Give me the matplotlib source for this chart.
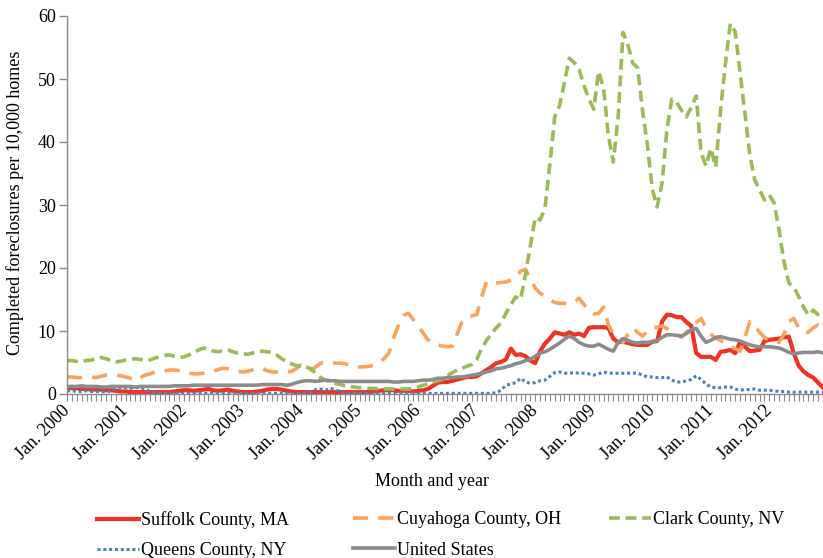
import numpy as np
import matplotlib
matplotlib.use("Agg")
import matplotlib.pyplot as plt

plt.rcParams['font.family'] = ['Liberation Serif', 'DejaVu Serif']

# monthly data, Jan. 2000 .. Dec. 2012 (156 months)
suffolk = [
    1.0, 0.9, 0.9, 0.8, 0.8, 0.7, 0.7, 0.7, 0.6, 0.6, 0.5, 0.4,
    0.4, 0.3, 0.3, 0.3, 0.3, 0.3, 0.3, 0.3, 0.3, 0.3, 0.4, 0.5,
    0.6, 0.6, 0.5, 0.6, 0.7, 0.8, 0.6, 0.5, 0.6, 0.7, 0.5, 0.4,
    0.3, 0.3, 0.3, 0.4, 0.5, 0.7, 0.8, 0.8, 0.7, 0.5, 0.4, 0.3,
    0.3, 0.3, 0.3, 0.3, 0.3, 0.3, 0.3, 0.3, 0.3, 0.3, 0.3, 0.3,
    0.3, 0.3, 0.3, 0.4, 0.5, 0.6, 0.6, 0.6, 0.5, 0.5, 0.5, 0.4,
    0.5, 0.6, 0.8, 1.3, 1.8, 1.9, 1.9, 2.1, 2.3, 2.5, 2.7, 2.7,
    2.8, 3.3, 3.8, 4.3, 4.9, 5.1, 5.5, 7.2, 6.2, 6.3, 6.0, 5.3,
    4.9, 6.8, 8.0, 8.8, 9.8, 9.6, 9.4, 9.8, 9.4, 9.6, 9.2, 10.5,
    10.6, 10.6, 10.6, 10.5, 8.8, 8.2, 8.3, 8.1, 7.9, 7.8, 7.8, 7.8,
    8.3, 8.4, 11.5, 12.6, 12.5, 12.2, 12.2, 11.4, 10.8, 6.5, 5.9, 5.9,
    5.9, 5.4, 6.7, 6.8, 7.0, 6.5, 8.2, 7.5, 6.8, 6.9, 7.0, 8.4,
    8.6, 8.7, 8.8, 9.0, 9.1, 6.5, 4.5, 3.6, 3.0, 2.6, 1.8, 1.0,
]

cuyahoga = [
    2.7, 2.7, 2.6, 2.6, 2.7, 2.7, 2.6, 2.8, 3.0, 3.0, 3.0, 2.9,
    2.7, 2.5, 2.1, 2.6, 3.0, 3.2, 3.5, 3.6, 3.7, 3.8, 3.8, 3.7,
    3.5, 3.3, 3.2, 3.2, 3.3, 3.3, 3.6, 3.9, 4.1, 4.0, 3.8, 3.6,
    3.5, 3.6, 3.8, 4.0, 4.1, 3.7, 3.5, 3.5, 3.5, 3.5, 3.6, 4.0,
    4.6, 4.3, 3.8, 4.3, 4.9, 4.9, 4.9, 4.9, 4.9, 4.8, 4.6, 4.4,
    4.3, 4.3, 4.4, 4.6, 5.1, 5.6, 6.5, 9.0, 11.0, 12.5, 12.8, 11.8,
    10.8, 9.7, 8.6, 8.0, 7.8, 7.6, 7.5, 7.6, 9.5, 11.5, 12.2, 12.4,
    12.6, 15.4, 17.8, 17.6, 17.6, 17.7, 17.8, 18.1, 18.5, 19.5, 19.8, 18.3,
    16.8, 16.0, 15.5, 15.0, 14.5, 14.4, 14.4, 14.4, 14.6, 15.2, 14.2, 13.2,
    12.7, 12.8, 13.8, 11.0, 9.5, 8.5, 8.2, 9.5, 10.5, 9.8, 9.2, 10.0,
    10.5, 10.6, 10.8, 10.4, 9.8, 9.5, 9.0, 9.8, 10.6, 11.3, 12.0, 10.5,
    9.5, 8.8, 8.5, 8.0, 7.5, 7.2, 6.8, 9.0, 11.5, 10.8, 9.8, 9.0,
    8.5, 8.3, 8.2, 9.5, 11.5, 12.0, 10.5, 9.8, 9.8, 10.5, 11.0, 10.8,
]

clark = [
    5.3, 5.3, 5.2, 5.2, 5.3, 5.4, 5.6, 5.8, 5.6, 5.3, 5.1, 5.2,
    5.4, 5.5, 5.6, 5.5, 5.3, 5.4, 5.7, 5.9, 6.1, 6.2, 6.0, 5.8,
    5.9, 6.2, 6.6, 7.0, 7.3, 7.1, 6.8, 6.7, 6.9, 7.0, 6.7, 6.5,
    6.4, 6.3, 6.5, 6.7, 6.8, 6.7, 6.6, 6.2, 5.6, 5.2, 4.8, 4.5,
    4.4, 4.3, 4.0, 3.3, 2.6, 2.2, 1.9, 1.7, 1.5, 1.3, 1.2, 1.1,
    1.0, 1.0, 0.9, 0.9, 0.8, 0.8, 0.8, 0.8, 0.8, 0.8, 0.8, 0.9,
    1.1, 1.4, 1.6, 1.9, 2.1, 2.3, 2.9, 3.4, 3.8, 4.1, 4.4, 4.7,
    5.5, 7.2, 8.5, 9.5, 10.5, 11.3, 12.8, 14.2, 15.4, 15.0, 19.0, 23.5,
    28.0, 27.6, 29.5, 36.5, 44.0, 45.8, 49.5, 53.3, 52.6, 51.5, 49.0, 46.8,
    45.2, 51.2, 48.5, 41.0, 36.8, 44.0, 57.4, 55.4, 52.5, 51.8, 45.0, 39.5,
    32.5, 29.7, 33.5, 42.0, 46.8, 46.3, 45.0, 44.0, 45.5, 47.3, 38.3, 36.2,
    39.0, 36.0, 45.0, 52.5, 58.8, 57.5, 51.0, 44.5, 38.0, 34.0, 32.4, 30.8,
    31.6, 30.3, 26.0, 21.0, 17.6, 17.0, 15.5, 13.8, 12.5, 13.3, 12.6, 12.0,
]

queens = [
    0.5, 0.5, 0.4, 0.4, 0.5, 0.4, 0.4, 0.4, 0.3, 0.5, 0.9, 1.0,
    1.0, 0.9, 1.0, 1.0, 0.8, 0.4, 0.2, 0.1, 0.1, 0.1, 0.1, 0.1,
    0.1, 0.1, 0.1, 0.1, 0.1, 0.1, 0.1, 0.1, 0.1, 0.1, 0.1, 0.1,
    0.1, 0.1, 0.1, 0.1, 0.1, 0.1, 0.1, 0.1, 0.1, 0.1, 0.1, 0.1,
    0.1, 0.1, 0.3, 0.7, 0.8, 0.6, 0.9, 0.7, 0.4, 0.1, 0.1, 0.1,
    0.1, 0.1, 0.1, 0.1, 0.1, 0.1, 0.1, 0.1, 0.1, 0.1, 0.1, 0.1,
    0.1, 0.1, 0.1, 0.1, 0.1, 0.1, 0.1, 0.1, 0.1, 0.1, 0.1, 0.1,
    0.1, 0.1, 0.1, 0.1, 0.2, 0.6, 1.4, 1.6, 1.8, 2.5, 1.9, 1.7,
    1.8, 2.1, 2.2, 2.8, 3.4, 3.5, 3.3, 3.3, 3.4, 3.3, 3.3, 3.2,
    3.0, 3.2, 3.5, 3.3, 3.3, 3.3, 3.3, 3.3, 3.3, 3.3, 3.0, 2.7,
    2.7, 2.6, 2.6, 2.7, 2.2, 1.9, 1.9, 2.1, 2.3, 2.9, 2.3, 1.6,
    1.1, 1.0, 1.0, 1.1, 1.1, 0.8, 0.6, 0.7, 0.7, 0.8, 0.6, 0.6,
    0.6, 0.5, 0.4, 0.4, 0.3, 0.3, 0.3, 0.3, 0.3, 0.3, 0.3, 0.3,
]

us = [
    1.2, 1.2, 1.2, 1.3, 1.2, 1.2, 1.2, 1.1, 1.1, 1.2, 1.2, 1.2,
    1.2, 1.2, 1.1, 1.2, 1.2, 1.2, 1.2, 1.2, 1.2, 1.2, 1.3, 1.3,
    1.3, 1.3, 1.4, 1.4, 1.4, 1.4, 1.4, 1.4, 1.4, 1.4, 1.4, 1.4,
    1.4, 1.4, 1.4, 1.4, 1.5, 1.5, 1.5, 1.5, 1.5, 1.4, 1.5, 1.8,
    2.0, 2.1, 2.1, 2.0, 2.1, 2.2, 2.1, 2.1, 2.0, 2.0, 2.0, 2.0,
    2.0, 2.0, 2.0, 2.0, 2.0, 2.0, 2.0, 1.9, 1.9, 2.0, 2.0, 2.0,
    2.1, 2.2, 2.2, 2.3, 2.5, 2.5, 2.6, 2.6, 2.7, 2.7, 2.8, 3.0,
    3.1, 3.3, 3.5, 3.7, 4.0, 4.1, 4.3, 4.5, 4.8, 5.0, 5.3, 5.5,
    6.0, 6.5, 6.7, 7.1, 7.6, 8.1, 8.7, 9.2, 8.8, 8.2, 7.8, 7.6,
    7.6, 7.9, 7.5, 7.1, 6.8, 8.2, 8.8, 8.5, 8.2, 8.1, 8.2, 8.2,
    8.3, 8.5, 9.0, 9.4, 9.4, 9.3, 9.2, 9.6, 10.2, 10.4, 9.2, 8.2,
    8.5, 9.0, 9.1, 8.9, 8.7, 8.6, 8.4, 8.1, 7.8, 7.6, 7.5, 7.5,
    7.5, 7.4, 7.3, 7.0, 6.6, 6.4, 6.5, 6.6, 6.6, 6.6, 6.7, 6.5,
]

years = list(range(2000, 2013))
year_labels = ["Jan. %d" % y for y in years]
months = np.arange(len(us))

fig = plt.figure(figsize=(8.23, 5.58), dpi=100)
ax = fig.add_axes([67 / 823, 1 - 394 / 558, 756 / 823, 378 / 558])

l_suf, = ax.plot(months, suffolk, color='#EE3224', lw=3.0, label='Suffolk County, MA')
l_cuy, = ax.plot(months, cuyahoga, color='#F9A35C', lw=2.6, dashes=(4.2, 2.8),
                 label='Cuyahoga County, OH')
l_cla, = ax.plot(months, clark, color='#9BBB59', lw=2.6, dashes=(3.0, 1.6),
                 label='Clark County, NV')
l_que, = ax.plot(months, queens, color='#4F81BD', lw=2.2, dashes=(1.0, 0.9),
                 label='Queens County, NY')
l_us, = ax.plot(months, us, color='#8C8C8C', lw=2.6, label='United States')

ax.set_xlim(0, len(us) - 1)
ax.set_ylim(0, 60)
ax.set_yticks(range(0, 61, 10))

ax.set_xticks(months[::12])
ax.set_xticklabels(year_labels, rotation=45, ha='right', va='center',
                   rotation_mode='anchor')
ax.set_xticks(months, minor=True)

for s in ['top', 'right']:
    ax.spines[s].set_visible(False)
for s in ['left', 'bottom']:
    ax.spines[s].set_color('#8A8A8A')
    ax.spines[s].set_linewidth(1.0)

ax.tick_params(axis='y', which='major', length=6, width=1, color='#8A8A8A',
               labelsize=13, pad=2)
ax.tick_params(axis='x', which='both', length=5, width=0.8, color='#8A8A8A',
               labelsize=13, pad=5)

ax.set_xlabel('Month and year', fontsize=13)
ax.xaxis.set_label_coords(0.483, -0.208)
ax.set_ylabel('Completed foreclosures per 10,000 homes', fontsize=13)
ax.yaxis.set_label_coords(-0.057, 0.505)

# legend laid out as three fixed columns below the plot
columns = [([l_suf, l_que], 97), ([l_cuy, l_us], 353), ([l_cla], 609)]
for handles, xpix in columns:
    fig.legend(handles=handles, loc='upper left',
               bbox_to_anchor=(xpix / 823, 1 - 511 / 558),
               frameon=False, fontsize=13, handlelength=2.3,
               handletextpad=0.15, borderpad=0, borderaxespad=0,
               labelspacing=0.75)

fig.savefig('out.png', dpi=100)
